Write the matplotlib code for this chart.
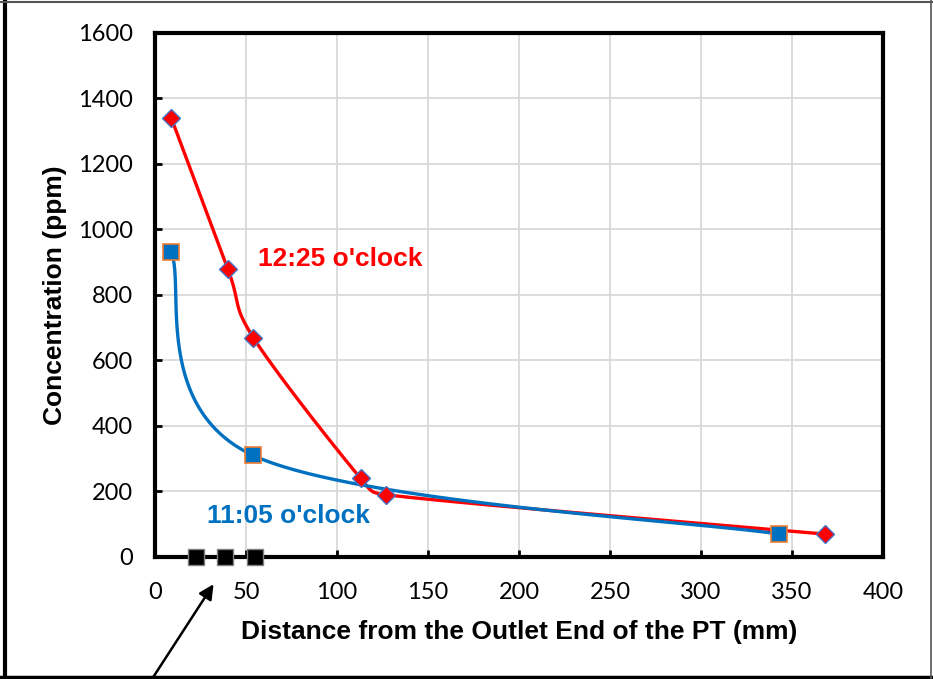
import numpy as np
import matplotlib.pyplot as plt
from matplotlib.lines import Line2D

# data
red_x = [9, 40, 54, 113, 127, 368]
red_y = [1340, 880, 670, 240, 190, 70]
blue_x = [9, 54, 343]
blue_y = [930, 310, 70]
base_x = [22.5, 38.5, 55]
base_y = [0, 0, 0]

xticks = np.arange(0, 401, 50)
yticks = np.arange(0, 1601, 200)


def smooth(ax, xs, ys, n=60):
    # Excel-like smoothed line: Catmull-Rom bezier in display space,
    # control arms capped so short segments don't loop
    pts = ax.transData.transform(np.column_stack([xs, ys]))
    out = []
    m = len(pts)
    for i in range(m - 1):
        p1 = pts[i]
        p2 = pts[i + 1]
        seg_len = np.hypot(*(p2 - p1))
        a = (p2 - pts[i - 1]) / 6.0 if i > 0 else (p2 - p1) / 6.0
        b = (pts[i + 2] - p1) / 6.0 if i + 2 < m else (p2 - p1) / 6.0
        cap = 0.55 * seg_len
        if np.hypot(*a) > cap:
            a = a / np.hypot(*a) * cap
        if np.hypot(*b) > cap:
            b = b / np.hypot(*b) * cap
        c1 = p1 + a
        c2 = p2 - b
        t = np.linspace(0, 1, n)[:, None]
        seg = ((1 - t) ** 3) * p1 + 3 * ((1 - t) ** 2) * t * c1 + 3 * (1 - t) * t ** 2 * c2 + t ** 3 * p2
        out.append(seg)
    out = np.vstack(out)
    d = ax.transData.inverted().transform(out)
    return d[:, 0], d[:, 1]


fig = plt.figure(figsize=(9.33, 6.79), dpi=100)
ax = fig.add_axes([0.1661, 0.1797, 0.7803, 0.7717])
ax.set_xlim(0, 400)
ax.set_ylim(0, 1600)
ax.set_xticks(xticks)
ax.set_yticks(yticks)
ax.grid(True, color='#D9D9D9', lw=1.3, zorder=0)
ax.set_axisbelow(True)

for s in ax.spines.values():
    s.set_linewidth(3)
    s.set_color('black')
ax.tick_params(direction='in', length=5, width=2, labelsize=17)
ax.tick_params(axis='x', pad=18)
ax.tick_params(axis='y', pad=16)
for lab in ax.get_xticklabels() + ax.get_yticklabels():
    lab.set_fontfamily('Lato')

sx, sy = smooth(ax, red_x, red_y)
ax.plot(sx, sy, color='red', lw=2.4, zorder=3, solid_capstyle='round')
bx, by = smooth(ax, blue_x, blue_y)
ax.plot(bx, by, color='#0070C0', lw=2.4, zorder=4, solid_capstyle='round')

ax.plot(red_x, red_y, ls='none', marker='D', ms=9, mfc='red', mec='#4472C4', mew=1, zorder=5)
ax.plot(blue_x, blue_y, ls='none', marker='s', ms=11, mfc='#0070C0', mec='#ED7D31', mew=1.2, zorder=5)
ax.plot(base_x, base_y, color='black', lw=2, marker='s', ms=11.5, mfc='black', mec='#7F7F7F',
        mew=1, zorder=6, clip_on=False)

ax.text(56.5, 910, "12:25 o'clock", color='red', fontsize=19, fontweight='bold',
        family='Liberation Sans', va='center', ha='left')
ax.text(28.5, 125, "11:05 o'clock", color='#0070C0', fontsize=19, fontweight='bold',
        family='Liberation Sans', va='center', ha='left')

ax.set_xlabel('Distance from the Outlet End of the PT (mm)', fontsize=19, fontweight='bold',
              family='Liberation Sans', labelpad=12)
ax.set_ylabel('Concentration (ppm)', fontsize=19, fontweight='bold',
              family='Liberation Sans', labelpad=8)

ax.annotate('', xy=(33, -76), xycoords='data', xytext=(152 / 933, 0.0), textcoords='figure fraction',
            arrowprops=dict(arrowstyle='-|>', color='black', lw=1.8, mutation_scale=22),
            annotation_clip=False)

# outer frame
fig.add_artist(Line2D([5 / 933, 5 / 933], [0, 1], color='black', lw=3, transform=fig.transFigure))
fig.add_artist(Line2D([0, 1], [2 / 679, 2 / 679], color='black', lw=2.5, transform=fig.transFigure))
fig.add_artist(Line2D([0, 1], [1 - 1.5 / 679, 1 - 1.5 / 679], color='#555555', lw=1.5, transform=fig.transFigure))
fig.add_artist(Line2D([931 / 933, 931 / 933], [0, 1], color='#555555', lw=1.2, transform=fig.transFigure))

fig.savefig('out.png', dpi=100)
